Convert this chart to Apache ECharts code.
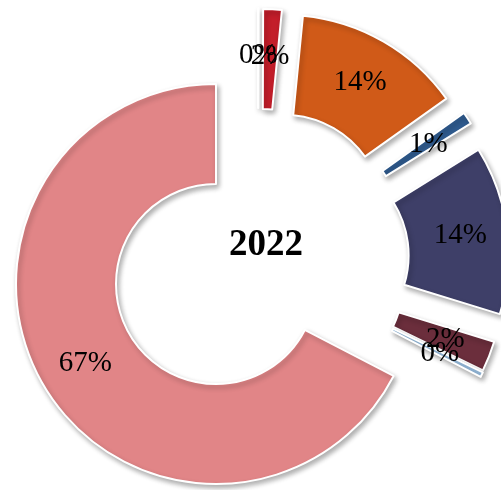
<!DOCTYPE html>
<html>
<head>
<meta charset="utf-8">
<script src="https://cdn.jsdelivr.net/npm/echarts@6/dist/echarts.min.js"></script>
<style>
  html, body { margin: 0; padding: 0; background: #fff; }
  #chart { width: 501px; height: 490px; }
</style>
</head>
<body>
<div id="chart"></div>
<script>
// share of each part, in %, clockwise from 12 o'clock
const names = ['a', 'b', 'c', 'd', 'e', 'f', 'g', 'h'];
const values = [0.05, 1.5, 13.6, 1.0, 13.6, 2.45, 0.4, 67.4];
const colors = ['#c31e2a', '#c31e2a', '#d05a18', '#2f5b8f', '#3e3f68', '#6b2e3c', '#9dc3e6', '#e18587'];
const yearLabel = '2022';

// exploded offset of each slice from the doughnut centre (px)
const explode = [[-6, -39], [-1.5, -38], [19.5, -32.3], [37, -18], [44.6, 8.3], [39, 36], [39, 38], [-48, 37]];
const cx = 264, cy = 247;

const chart = echarts.init(document.getElementById('chart'), null, { renderer: 'canvas' });

// one pie per slice so every slice can be pulled out on its own
const series = values.map((v, i) => ({
    type: 'pie',
    silent: true,
    startAngle: 90,
    clockwise: true,
    radius: [100, 200],
    center: [cx + explode[i][0], cy + explode[i][1]],
    avoidLabelOverlap: false,
    minShowLabelAngle: 0,
    labelLayout: { hideOverlap: false },
    labelLine: { show: false },
    data: values.map((val, j) => ({
        name: names[j],
        value: val,
        itemStyle: j === i ? {
            color: colors[j],
            borderColor: '#fff',
            borderWidth: 2,
            shadowBlur: 5,
            shadowColor: 'rgba(0,0,0,0.3)',
            shadowOffsetX: 2,
            shadowOffsetY: 3
        } : { color: 'transparent', borderWidth: 0 },
        label: j === i ? {
            show: true,
            position: 'inside',
            formatter: p => Math.round(p.value) + '%',
            fontFamily: 'Liberation Serif',
            fontSize: 29,
            color: '#000'
        } : { show: false }
    }))
}));

chart.setOption({
    animation: false,
    backgroundColor: '#fff',
    graphic: [{
        type: 'text',
        x: 266,
        y: 245,
        style: {
            text: yearLabel,
            fontFamily: 'Liberation Serif',
            fontWeight: 'bold',
            fontSize: 37,
            fill: '#000',
            align: 'center',
            verticalAlign: 'middle'
        }
    }],
    series: series
});
</script>
</body>
</html>
